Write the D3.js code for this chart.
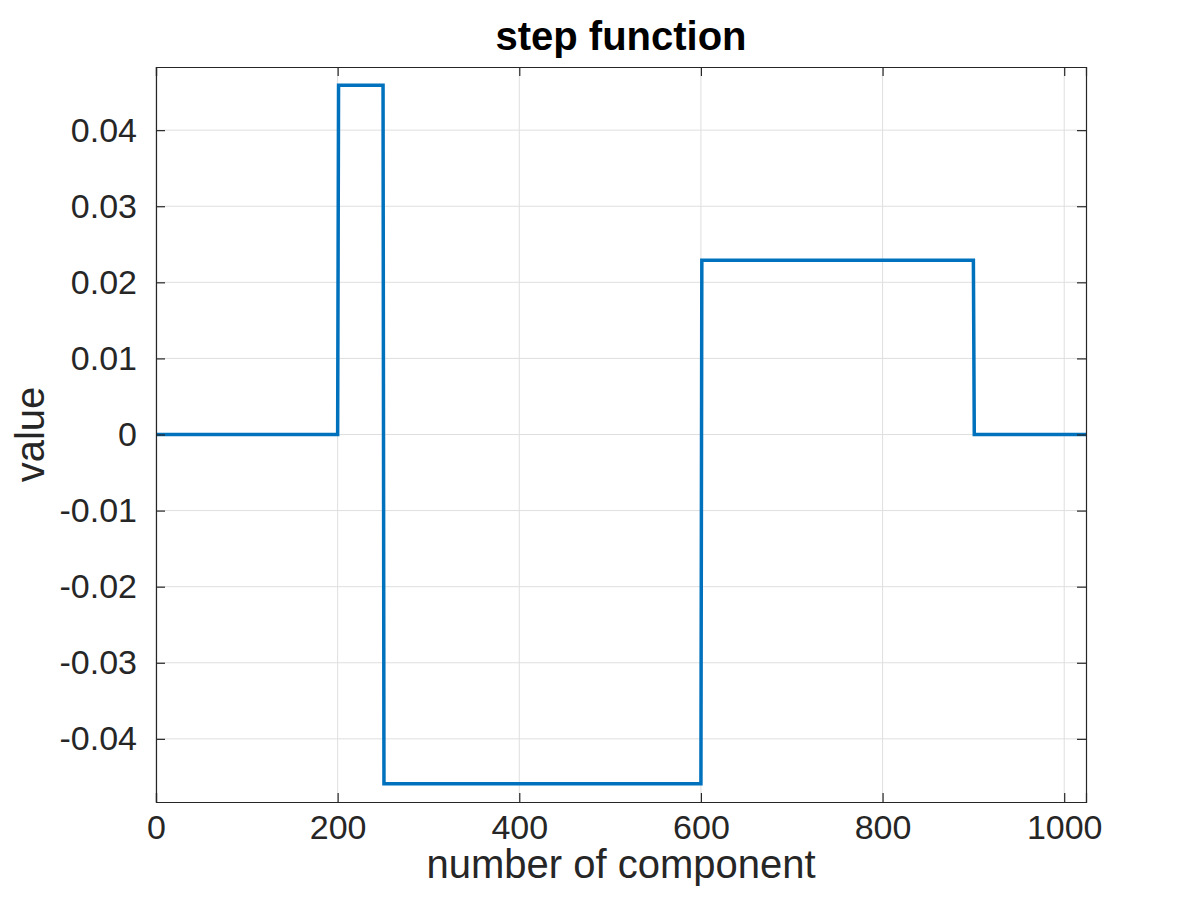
<!DOCTYPE html>
<html>
<head>
<meta charset="utf-8">
<script src="https://cdn.jsdelivr.net/npm/d3@7"></script>
<style>
  body { margin: 0; background: #fff; }
  svg { display: block; font-family: "Liberation Sans", Arial, Helvetica, sans-serif; }
  .axis text { fill: #262626; font-size: 34px; }
  .grid line { stroke: #dfdfdf; stroke-width: 1; }
</style>
</head>
<body>
<svg class="chart" width="1200" height="900"></svg>
<script>
'use strict'

// step function vertices (component index, value)
const components = [1, 200, 201, 250, 251, 600, 601, 900, 901, 1024]
const values = [0, 0, 0.0459, 0.0459, -0.0459, -0.0459, 0.0229, 0.0229, 0, 0]

const xTicks = [0, 200, 400, 600, 800, 1000]
const yTicks = [-0.04, -0.03, -0.02, -0.01, 0, 0.01, 0.02, 0.03, 0.04]
const yTickLabels = ['-0.04', '-0.03', '-0.02', '-0.01', '0', '0.01', '0.02', '0.03', '0.04']
const xDomain = [0, 1024]
const yDomain = [-0.0483, 0.0483]

const svg = d3.select('svg.chart'),
  margin = { top: 67, right: 114, bottom: 98, left: 156 },
  width = +svg.attr('width') - margin.left - margin.right,
  height = +svg.attr('height') - margin.top - margin.bottom

const x = d3.scaleLinear().domain(xDomain).range([0, width])
const y = d3.scaleLinear().domain(yDomain).range([height, 0])

const g = svg.append('g')
  .attr('transform', 'translate(' + margin.left + ',' + margin.top + ')')

// grid
g.append('g').attr('class', 'grid')
  .selectAll('line').data(xTicks).enter().append('line')
  .attr('x1', d => x(d)).attr('x2', d => x(d))
  .attr('y1', 0).attr('y2', height)
g.append('g').attr('class', 'grid')
  .selectAll('line').data(yTicks).enter().append('line')
  .attr('x1', 0).attr('x2', width)
  .attr('y1', d => y(d)).attr('y2', d => y(d))

// data line
const pts = components.map((c, i) => [c, values[i]])
g.append('path')
  .datum(pts)
  .attr('fill', 'none')
  .attr('stroke', '#0072BD')
  .attr('stroke-width', 3.5)
  .attr('d', d3.line().x(d => x(d[0])).y(d => y(d[1])))

// axes, ticks inward on all four sides
const tickLen = 9
const fmtY = (d, i) => yTickLabels[i]

g.append('g').attr('class', 'axis')
  .attr('transform', 'translate(0,' + height + ')')
  .call(d3.axisBottom(x).tickValues(xTicks).tickSize(-tickLen).tickPadding(13).tickFormat(d3.format('d')))
g.append('g').attr('class', 'axis')
  .call(d3.axisTop(x).tickValues(xTicks).tickSize(-tickLen).tickFormat(''))
g.append('g').attr('class', 'axis')
  .call(d3.axisLeft(y).tickValues(yTicks).tickSize(-tickLen).tickPadding(19).tickFormat(fmtY))
g.append('g').attr('class', 'axis')
  .attr('transform', 'translate(' + width + ',0)')
  .call(d3.axisRight(y).tickValues(yTicks).tickSize(-tickLen).tickFormat(''))

g.selectAll('.axis .domain').attr('stroke', '#262626').attr('stroke-width', 1.2)
g.selectAll('.axis .tick line').attr('stroke', '#262626').attr('stroke-width', 1.2)
g.selectAll('.axis text').attr('font-family', null).attr('font-size', null)

// labels
g.append('text')
  .attr('text-anchor', 'middle')
  .attr('x', width / 2)
  .attr('y', -17)
  .attr('font-weight', 'bold')
  .attr('font-size', 40)
  .attr('fill', '#000')
  .text('step function')

g.append('text')
  .attr('text-anchor', 'middle')
  .attr('x', width / 2)
  .attr('y', height + 76)
  .attr('font-size', 40)
  .attr('fill', '#262626')
  .text('number of component')

g.append('text')
  .attr('text-anchor', 'middle')
  .attr('transform', 'translate(' + (-112) + ',' + (height / 2) + ')rotate(-90)')
  .attr('font-size', 40)
  .attr('fill', '#262626')
  .text('value')
</script>
</body>
</html>
